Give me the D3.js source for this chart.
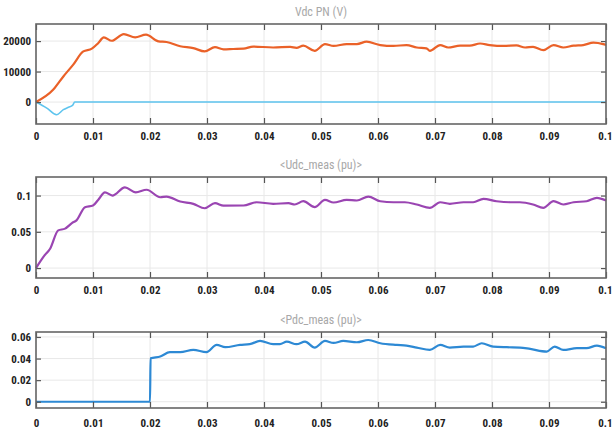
<!DOCTYPE html>
<html><head><meta charset="utf-8">
<script src="https://cdn.jsdelivr.net/npm/d3@7"></script>
<style>
html,body{margin:0;padding:0;background:#fff;}
svg{display:block;}
</style></head>
<body><svg id="c" width="612" height="438"></svg>
<script>
// ---- data ----
const xTicks = [0,0.01,0.02,0.03,0.04,0.05,0.06,0.07,0.08,0.09,0.1];
const xTickLabels = ["0","0.01","0.02","0.03","0.04","0.05","0.06","0.07","0.08","0.09","0.1"];

const titles = ["Vdc PN (V)", "<Udc_meas (pu)>", "<Pdc_meas (pu)>"];

// Panel 1: Vdc PN (orange)
const vdcT = [0,0.003,0.0048,0.0065,0.0083,0.0098,0.0109,0.0119,0.0133,0.0154,0.0174,0.0193,0.0215,0.0229,0.0253,0.0276,0.0296,0.0314,0.0329,0.0346,0.0364,0.0381,0.0416,0.0446,0.0457,0.0469,0.0489,0.0507,0.0522,0.0545,0.0563,0.058,0.0604,0.0627,0.065,0.0668,0.0685,0.0691,0.0709,0.0723,0.0744,0.0761,0.0779,0.0796,0.082,0.0843,0.0858,0.0872,0.089,0.0908,0.0925,0.0943,0.096,0.0978,0.0995,0.1];
const vdcV = [0,4000,8400,12200,16600,17500,19300,21200,20100,22300,21200,22100,19900,19700,18300,17700,16600,18000,17300,17400,17500,18200,17900,18100,17800,18500,16800,19000,18400,19000,19000,19800,18700,18400,18700,17900,17600,16800,18700,17900,18500,18500,19200,18700,18400,18600,17900,18100,17000,18700,17900,18500,18700,19500,19000,18700];
// Panel 1: second trace (light blue)
const vdc2T = [0,0.0019,0.0036,0.0048,0.0057,0.0064,0.0068,0.1];
const vdc2V = [0,-2000,-4150,-2500,-1700,-1100,0,0];

// Panel 2: Udc_meas (purple)
const udcT = [0,0.0013,0.0025,0.0039,0.0051,0.0063,0.0071,0.0086,0.01,0.0109,0.0121,0.0134,0.0156,0.0175,0.0194,0.0218,0.0229,0.0253,0.0276,0.0296,0.0314,0.0329,0.0364,0.0387,0.0416,0.0443,0.0454,0.0469,0.0489,0.0507,0.0522,0.0545,0.0563,0.0583,0.0604,0.0627,0.0647,0.0668,0.0691,0.0709,0.0726,0.075,0.0767,0.0785,0.0808,0.0832,0.0849,0.0872,0.089,0.0908,0.0925,0.0943,0.0966,0.0984,0.1];
const udcV = [0,0.0155,0.027,0.052,0.0544,0.062,0.0658,0.084,0.0863,0.094,0.1045,0.1,0.1114,0.1045,0.108,0.0977,0.0986,0.0918,0.0886,0.0825,0.0895,0.0861,0.0863,0.0908,0.0886,0.0895,0.0877,0.0922,0.084,0.094,0.0904,0.094,0.0932,0.0986,0.0922,0.0908,0.0908,0.0877,0.0831,0.0908,0.0886,0.0908,0.0908,0.0955,0.0922,0.0908,0.0908,0.0877,0.0831,0.0922,0.0877,0.0908,0.0922,0.0968,0.0932];

// Panel 3: Pdc_meas (blue)
const pdcT = [0,0.02,0.0201,0.0218,0.0235,0.0253,0.0276,0.0299,0.0317,0.0332,0.0358,0.0375,0.0393,0.0416,0.0428,0.044,0.0457,0.0472,0.0489,0.0507,0.0522,0.0539,0.0563,0.0583,0.0604,0.0633,0.065,0.0668,0.0691,0.0709,0.0726,0.075,0.0767,0.0782,0.0802,0.0826,0.0849,0.0867,0.0896,0.091,0.0925,0.0949,0.0966,0.0984,0.1];
const pdcV = [0,0,0.0403,0.0419,0.0459,0.0459,0.048,0.0459,0.0526,0.0505,0.0526,0.0533,0.0563,0.0533,0.0533,0.0557,0.0533,0.0557,0.0502,0.0563,0.0545,0.0563,0.0551,0.0572,0.0542,0.0526,0.052,0.0502,0.048,0.0526,0.0502,0.0511,0.0511,0.0542,0.0511,0.0505,0.0502,0.0489,0.0465,0.0511,0.048,0.0496,0.0496,0.052,0.0496];

const yTicks1 = [0,10000,20000];
const yTicks2 = [0,0.05,0.1];
const yTicks3 = [0,0.02,0.04,0.06];

// ---- layout ----
const X0 = 36, X1 = 606;
const panels = [
  {top:24, bottom:124, domain:[-7200,25600], ticks:yTicks1, titleY:16, labY:141,
   series:[{t:vdc2T,v:vdc2V,color:"#5ec4ee",w:1.6},{t:vdcT,v:vdcV,color:"#ea6128",w:2.2}]},
  {top:177, bottom:278, domain:[-0.0137,0.1256], ticks:yTicks2, titleY:169, labY:295,
   series:[{t:udcT,v:udcV,color:"#9a45b2",w:2.2}]},
  {top:332, bottom:408, domain:[-0.0058,0.0646], ticks:yTicks3, titleY:324, labY:428,
   series:[{t:pdcT,v:pdcV,color:"#2d89d4",w:2.2}]}
];

const svg = d3.select("#c");
const x = d3.scaleLinear().domain([0,0.1]).range([X0,X1]);
const fontF = '"Liberation Sans Narrow","Arial Narrow","Roboto Condensed","DejaVu Sans Condensed",sans-serif';

panels.forEach((p,i)=>{
  const y = d3.scaleLinear().domain(p.domain).range([p.bottom,p.top]);
  const g = svg.append("g");
  // grid
  g.selectAll(".gx").data(xTicks).join("line")
    .attr("x1",d=>x(d)).attr("x2",d=>x(d)).attr("y1",p.top).attr("y2",p.bottom)
    .attr("stroke","#e8e8e8").attr("stroke-width",1);
  g.selectAll(".gy").data(p.ticks).join("line")
    .attr("x1",X0).attr("x2",X1).attr("y1",d=>y(d)).attr("y2",d=>y(d))
    .attr("stroke","#e8e8e8").attr("stroke-width",1);
  // series
  p.series.forEach(s=>{
    const pts = s.t.map((t,k)=>[t,s.v[k]]);
    const line = d3.line().x(d=>x(d[0])).y(d=>y(d[1])).curve(d3.curveMonotoneX);
    g.append("path").datum(pts).attr("d",line).attr("fill","none")
      .attr("stroke",s.color).attr("stroke-width",s.w).attr("stroke-linejoin","round");
  });
  // axes (inside ticks)
  const bottomAx = d3.axisBottom(x).tickValues(xTicks).tickSize(-6).tickFormat(()=> "");
  const topAx = d3.axisTop(x).tickValues(xTicks).tickSize(-6).tickFormat(()=> "");
  const leftAx = d3.axisLeft(y).tickValues(p.ticks).tickSize(-5).tickFormat(()=> "");
  const rightAx = d3.axisRight(y).tickValues(p.ticks).tickSize(-5).tickFormat(()=> "");
  [[bottomAx,`translate(0,${p.bottom})`],[topAx,`translate(0,${p.top})`],[leftAx,`translate(${X0},0)`],[rightAx,`translate(${X1},0)`]].forEach(([ax,tr])=>{
    const a = g.append("g").attr("transform",tr).call(ax);
    a.select(".domain").remove();
    a.selectAll(".tick line").attr("stroke","#555").attr("stroke-width",1.2);
  });
  // frame
  g.append("rect").attr("x",X0).attr("y",p.top).attr("width",X1-X0).attr("height",p.bottom-p.top)
    .attr("fill","none").attr("stroke","#666").attr("stroke-width",1.6);
  // tick labels via axes
  const xl = g.append("g").attr("transform",`translate(0,${p.bottom})`)
    .call(d3.axisBottom(x).tickValues(xTicks).tickSize(0).tickPadding(p.labY-p.bottom-9).tickFormat((d,k)=>xTickLabels[k]));
  xl.select(".domain").remove();
  xl.selectAll("text").attr("font-size",11).attr("fill","#222").style("font-family",fontF).style("font-weight","bold");
  xl.selectAll("text").filter(d=>d===0.1).attr("text-anchor","end").attr("dx",6);
  const yl = g.append("g").attr("transform",`translate(${X0},0)`)
    .call(d3.axisLeft(y).tickValues(p.ticks).tickSize(0).tickPadding(5).tickFormat(d=>String(d)));
  yl.select(".domain").remove();
  yl.selectAll("text").attr("font-size",11).attr("fill","#222").style("font-family",fontF).style("font-weight","bold");
  // title
  svg.append("text").attr("x",(X0+X1)/2).attr("y",p.titleY).attr("text-anchor","middle")
    .attr("font-size",12).attr("fill","#a8a8a8").style("font-family",fontF).text(titles[i]);
});
</script></body></html>
